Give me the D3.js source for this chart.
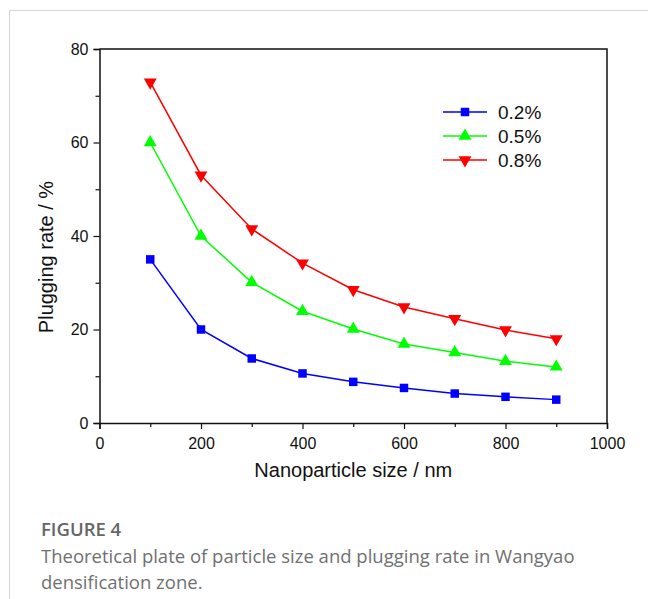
<!DOCTYPE html>
<html>
<head>
<meta charset="utf-8">
<script src="https://cdn.jsdelivr.net/npm/d3@7"></script>
<style>
  body { margin: 0; background: #fff; }
</style>
</head>
<body>
<svg id="chart"></svg>
<script>
// data
const sizes = [100, 200, 300, 400, 500, 600, 700, 800, 900];
const rate02 = [35.0, 20.0, 13.8, 10.6, 8.8, 7.5, 6.3, 5.6, 5.0];
const rate05 = [60.0, 40.0, 30.1, 23.9, 20.1, 16.9, 15.1, 13.2, 12.0];
const rate08 = [72.9, 53.0, 41.5, 34.2, 28.5, 24.8, 22.3, 19.9, 18.0];
const seriesNames = ["0.2%", "0.5%", "0.8%"];
const xTicks = [0, 200, 400, 600, 800, 1000];
const yTicks = [0, 20, 40, 60, 80];

const W = 648, H = 599;
const svg = d3.select("#chart").attr("width", W).attr("height", H);

// card border (top + left)
svg.append("line").attr("x1", 9.5).attr("x2", W).attr("y1", 10.5).attr("y2", 10.5)
  .attr("stroke", "#d6d6d6");
svg.append("line").attr("x1", 9.5).attr("x2", 9.5).attr("y1", 10.5).attr("y2", H)
  .attr("stroke", "#d6d6d6");

const x = d3.scaleLinear().domain([0, 1000]).range([99.5, 607]);
const y = d3.scaleLinear().domain([0, 80]).range([423, 49]);

const series = [
  { name: seriesNames[0], values: rate02, color: "#0000ff", symbol: d3.symbolSquare, size: 72, rot: 0 },
  { name: seriesNames[1], values: rate05, color: "#00ff00", symbol: d3.symbolTriangle, size: 72, rot: 0 },
  { name: seriesNames[2], values: rate08, color: "#ff0000", symbol: d3.symbolTriangle, size: 72, rot: 180 }
];

const font = "'Liberation Sans', Arial, sans-serif";

// frame top / right
svg.append("path")
  .attr("d", `M${x(0)},${y(80)}H${x(1000)}V${y(0)}`)
  .attr("fill", "none").attr("stroke", "#111").attr("stroke-width", 1.5);

// minor ticks
const minorX = d3.range(100, 1000, 200);
const minorY = d3.range(10, 80, 20);

svg.append("g").attr("transform", `translate(0,${y(0)})`)
  .call(d3.axisBottom(x).tickValues(xTicks).tickSize(6).tickPadding(9).tickFormat(d3.format("d")));
svg.append("g").attr("transform", `translate(0,${y(0)})`)
  .call(d3.axisBottom(x).tickValues(minorX).tickSize(4).tickFormat(""))
  .call(g => g.select(".domain").remove());

svg.append("g").attr("transform", `translate(${x(0)},0)`)
  .call(d3.axisLeft(y).tickValues(yTicks).tickSize(6).tickPadding(5).tickFormat(d3.format("d")));
svg.append("g").attr("transform", `translate(${x(0)},0)`)
  .call(d3.axisLeft(y).tickValues(minorY).tickSize(4).tickFormat(""))
  .call(g => g.select(".domain").remove());

svg.selectAll(".domain").attr("stroke", "#111").attr("stroke-width", 1.5);
svg.selectAll(".tick line").attr("stroke", "#111").attr("stroke-width", 1.2);
svg.selectAll(".tick text").attr("font-family", font).attr("font-size", 16).attr("fill", "#111");

// axis titles
svg.append("text")
  .attr("x", (x(0) + x(1000)) / 2).attr("y", 477)
  .attr("text-anchor", "middle")
  .attr("font-family", font).attr("font-size", 20).attr("fill", "#111")
  .text("Nanoparticle size / nm");

svg.append("text")
  .attr("transform", "translate(53,257) rotate(-90)")
  .attr("text-anchor", "middle")
  .attr("font-family", font).attr("font-size", 20).attr("fill", "#111")
  .text("Plugging rate / %");

// lines + markers
const line = d3.line().x((d, i) => x(sizes[i])).y(d => y(d));

series.forEach(s => {
  svg.append("path")
    .attr("d", line(s.values))
    .attr("fill", "none").attr("stroke", s.color).attr("stroke-width", 1.5);
  svg.append("g").selectAll("path").data(s.values).enter()
    .append("path")
    .attr("d", d3.symbol().type(s.symbol).size(s.size))
    .attr("transform", (d, i) => `translate(${x(sizes[i])},${y(d)}) rotate(${s.rot})`)
    .attr("fill", s.color);
});

// legend
const legend = svg.append("g").attr("transform", "translate(443,112)");
series.forEach((s, i) => {
  const g = legend.append("g").attr("transform", `translate(0,${i * 24})`);
  g.append("line").attr("x1", 0).attr("x2", 44).attr("stroke", s.color).attr("stroke-width", 1.5);
  g.append("path")
    .attr("d", d3.symbol().type(s.symbol).size(s.size))
    .attr("transform", `translate(22,0) rotate(${s.rot})`)
    .attr("fill", s.color);
  g.append("text").attr("x", 55).attr("y", 6.5)
    .attr("font-family", font).attr("font-size", 19).attr("fill", "#111")
    .text(s.name);
});

// caption
const capFont = "'Open Sans', 'Noto Sans', sans-serif";
svg.append("text").attr("x", 41).attr("y", 536)
  .attr("font-family", capFont).attr("font-size", 18.5).attr("font-weight", 600)
  .attr("fill", "#666").text("FIGURE 4");
svg.append("text").attr("x", 41).attr("y", 563)
  .attr("font-family", capFont).attr("font-size", 18.5)
  .attr("fill", "#707070").text("Theoretical plate of particle size and plugging rate in Wangyao");
svg.append("text").attr("x", 41).attr("y", 589)
  .attr("font-family", capFont).attr("font-size", 18.5)
  .attr("fill", "#707070").text("densification zone.");
</script>
</body>
</html>
